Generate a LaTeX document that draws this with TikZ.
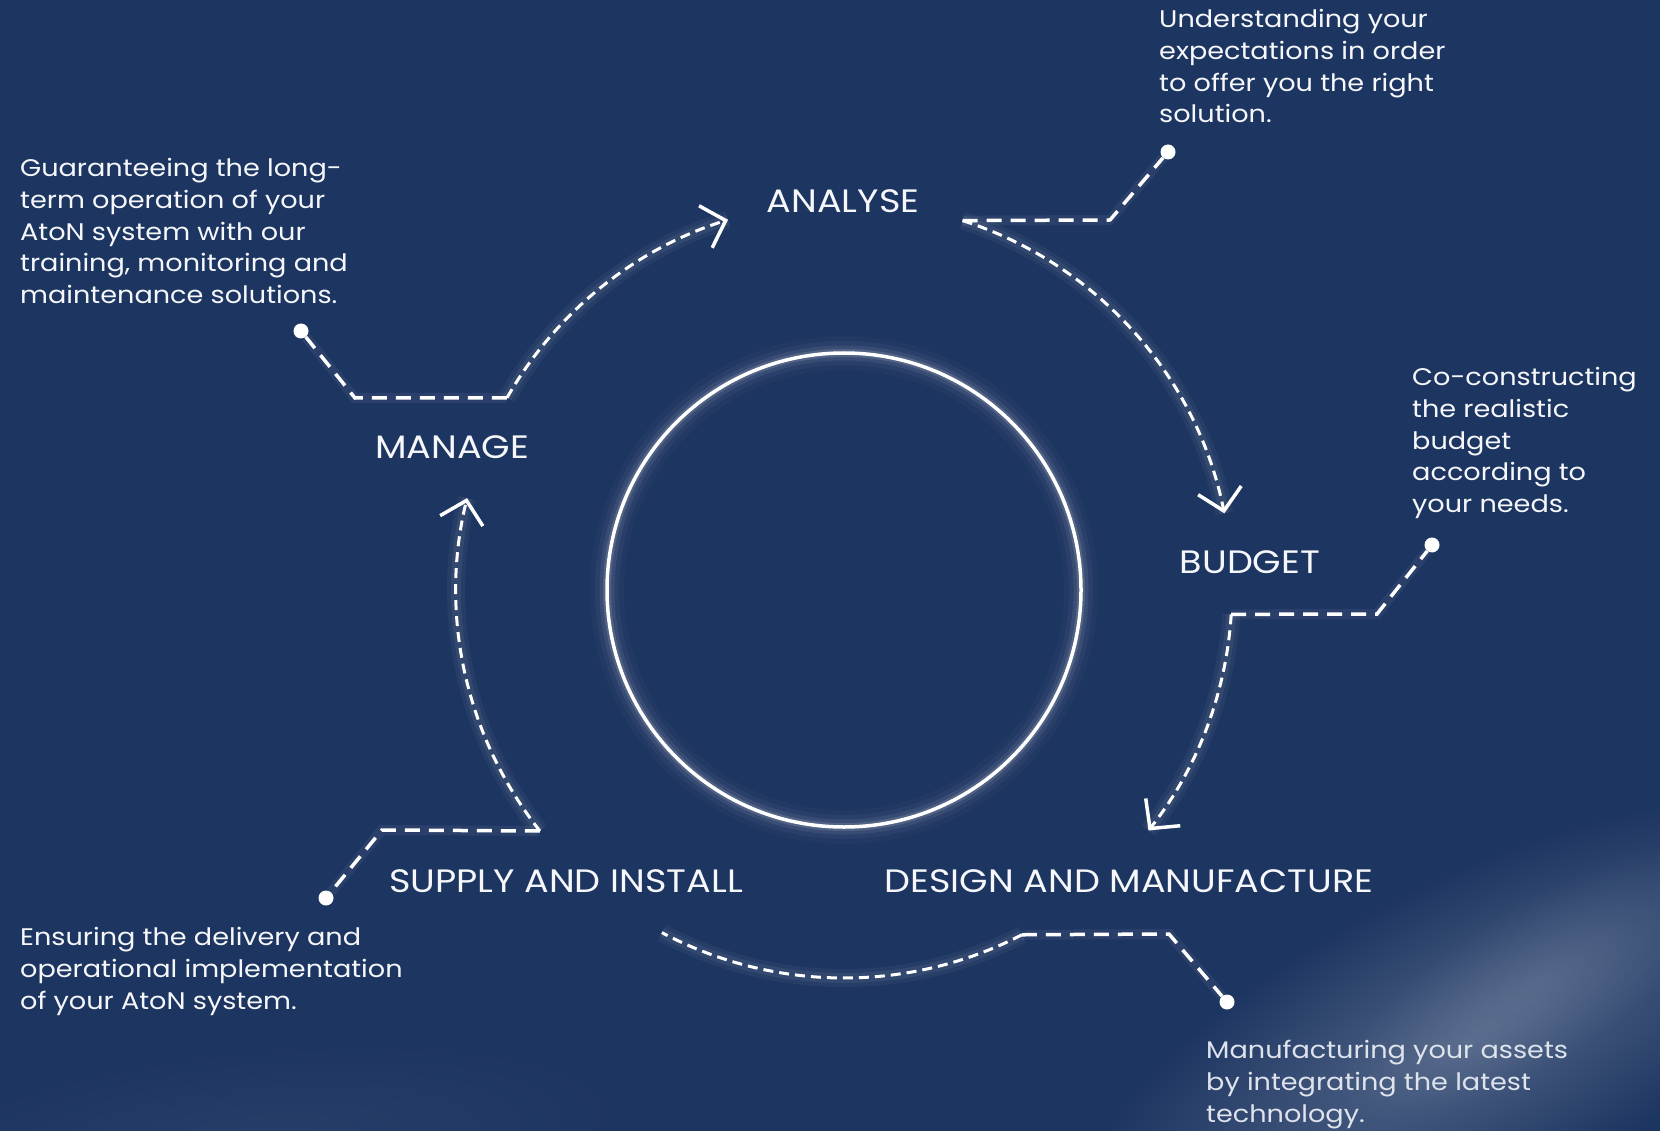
\documentclass[tikz,border=0pt]{standalone}
\usepackage{fontspec}
\setmainfont{Poppins}[FakeStretch=1.13]
\usetikzlibrary{arrows.meta,fadings}
\definecolor{bg}{RGB}{29,53,97}
\definecolor{mist}{RGB}{80,100,135}
\definecolor{mistlow}{RGB}{38,62,104}
\definecolor{txt}{RGB}{246,247,250}
\definecolor{txtdim}{RGB}{222,227,236}
\tikzfading[name=softblob, inner color=transparent!0, outer color=transparent!100]
\begin{document}
\begin{tikzpicture}[x=1pt,y=-1pt,
  desc/.style={anchor=north west, inner sep=0pt, align=left, text=txt, font=\fontsize{24}{31.8}\selectfont},
  stage/.style={anchor=base, inner sep=0pt, text=txt, font=\fontsize{32.4}{36}\selectfont},
  dot/.style={circle, fill=white, inner sep=0pt, minimum size=15pt},
  flow/.style={draw=white, line width=3pt, dash pattern=on 10pt off 6pt},
  leader/.style={draw=white, line width=3.5pt, dash pattern=on 15pt off 9pt},
  halo/.style={draw=white, line width=18pt, opacity=0.045},
  halo2/.style={draw=white, line width=10pt, opacity=0.06},
  tip/.style={-{Straight Barb[length=21pt,width=44pt,line width=3.5pt]}}
]
\useasboundingbox (0,0) rectangle (1660,1131);
\fill[bg] (0,0) rectangle (1660,1131);
% mist
\begin{scope}[transform canvas={shift={(1470pt,-1040pt)}, rotate=27}]
  \shade[inner color=mist, outer color=bg] (0,0) ellipse [x radius=430pt, y radius=160pt];
\end{scope}
\begin{scope}[transform canvas={shift={(1540pt,-980pt)}, rotate=32}]
  \fill[white, opacity=0.10, path fading=softblob] (0,0) ellipse [x radius=240pt, y radius=80pt];
\end{scope}
\begin{scope}[transform canvas={shift={(260pt,-1140pt)}, rotate=5}]
  \shade[inner color=mistlow, outer color=bg] (0,0) ellipse [x radius=360pt, y radius=90pt];
\end{scope}

% centre and ring
\coordinate (c) at (844,590);
\foreach \w/\o in {34/0.025,24/0.04,15/0.07,8/0.12}
  \draw[white, line width=\w pt, opacity=\o] (c) circle [radius=237pt];
\draw[white, line width=3.5pt] (c) circle [radius=237pt];

% arc end points
\path (c) ++(150.3:388pt) coordinate (manS);
\path (c) ++(107.4:388pt) coordinate (anaT);
\path (c) ++(72.2:388pt) coordinate (anaS);
\path (c) ++(11.4:388pt) coordinate (budT);
\path (c) ++(-3.6:388pt) coordinate (budS);
\path (c) ++(-38.3:388pt) coordinate (desT);
\path (c) ++(-62.7:388pt) coordinate (desS);
\path (c) ++(-118:388pt) coordinate (supT);
\path (c) ++(218.4:388pt) coordinate (supS);
\path (c) ++(166.3:388pt) coordinate (manT);

% glows
\foreach \st/\a/\b in {manS/150.3/107.4, anaS/72.2/11.4, budS/-3.6/-38.3, desS/-62.7/-118, supS/218.4/166.3}{
  \draw[halo] (\st) arc[start angle=\a, end angle=\b, radius=388pt];
  \draw[halo2] (\st) arc[start angle=\a, end angle=\b, radius=388pt];
}

% flow arcs
\draw[flow, tip] (manS) arc[start angle=150.3, end angle=107.4, radius=388pt];
\draw[flow, tip] (anaS) arc[start angle=72.2, end angle=11.4, radius=388pt];
\draw[flow, tip] (budS) arc[start angle=-3.6, end angle=-38.3, radius=388pt];
\draw[flow] (desS) arc[start angle=-62.7, end angle=-118, radius=388pt];
\draw[flow, tip] (supS) arc[start angle=218.4, end angle=166.3, radius=388pt];

% stage labels
\node[stage] (analyse) at (843,213) {ANALYSE};
\node[stage] (budget) at (1250,573) {BUDGET};
\node[stage] (design) at (1129,892) {DESIGN AND MANUFACTURE};
\node[stage] (supply) at (566,892) {SUPPLY AND INSTALL};
\node[stage] (manage) at (452,458) {MANAGE};

% dots
\node[dot] (dA) at (1168,152) {};
\node[dot] (dB) at (1432,545) {};
\node[dot] (dD) at (1227,1002) {};
\node[dot] (dS) at (326,898) {};
\node[dot] (dM) at (301,331) {};

% leader corners
\coordinate (kA) at (1110,220);
\coordinate (kB) at (1377,614);
\coordinate (kD) at (1169,934);
\coordinate (kS) at (382,830);
\coordinate (kM) at (355,398);

\foreach \s/\k/\d in {anaS/kA/dA, budS/kB/dB, desS/kD/dD, supS/kS/dS, manS/kM/dM}{
  \draw[halo2] (\s) -- (\k) -- (\d);
  \draw[leader] (\s) -- (\k) -- (\d);
}

% descriptions
\node[desc] (tA) at (1159,9) {Understanding your\\expectations in order\\to offer you the right\\solution.};
\node[desc] (tM) at (20,158) {Guaranteeing the long-\\term operation of your\\AtoN system with our\\training, monitoring and\\maintenance solutions.};
\node[desc] (tB) at (1412,367) {Co-constructing\\the realistic\\budget\\according to\\your needs.};
\node[desc] (tS) at (20,927) {Ensuring the delivery and\\operational implementation\\of your AtoN system.};
\node[desc, text=txtdim] (tD) at (1206,1040) {Manufacturing your assets\\by integrating the latest\\technology.};
\end{tikzpicture}
\end{document}
